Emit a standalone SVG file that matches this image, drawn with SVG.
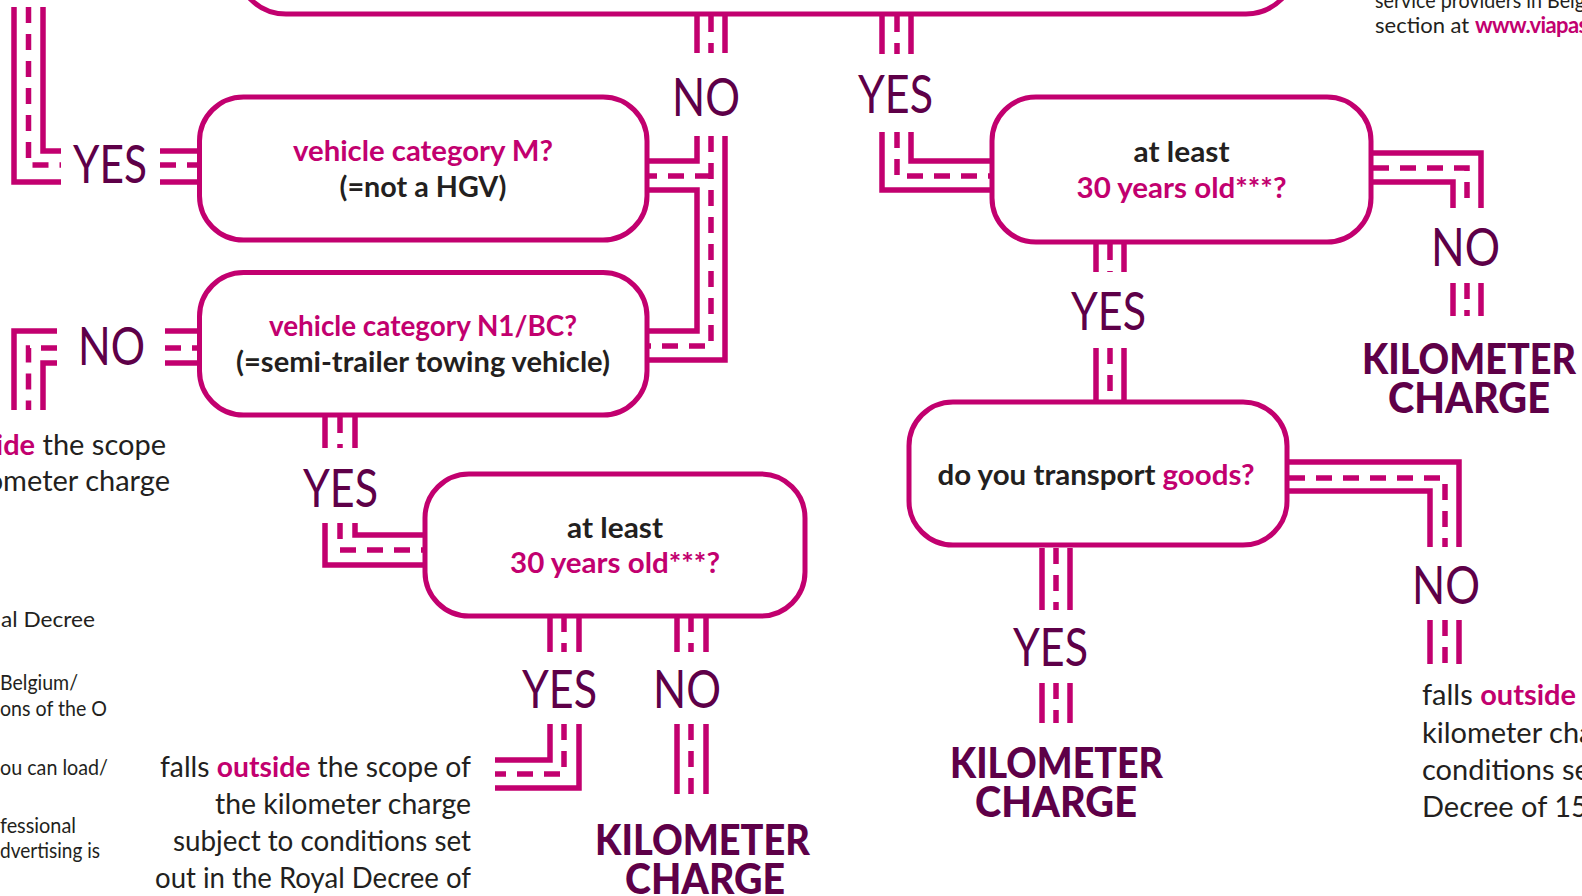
<svg xmlns="http://www.w3.org/2000/svg" width="1582" height="896" viewBox="0 0 1582 896">
<defs>
<style>
.box{fill:#fff;stroke:#C2006F;stroke-width:5}
.r{fill:none;stroke:#C2006F;stroke-width:5.5}
.d{fill:none;stroke:#C2006F;stroke-width:5.5;stroke-dasharray:16 11}
.lab{font-family:Lato,'Open Sans',sans-serif;font-weight:400;font-size:52px;fill:#5E0048}
.km{font-family:Lato,'Open Sans',sans-serif;font-weight:900;font-size:42px;fill:#5E0048}
.q{font-family:Lato,'Open Sans',sans-serif;font-weight:700;font-size:28px;fill:#231F20;text-anchor:middle}
.m{fill:#C2006F}
.b{font-weight:700;fill:#C2006F}
.t{font-family:Lato,'Open Sans',sans-serif;font-size:29px;fill:#231F20}
.s{font-family:Lato,'Open Sans',sans-serif;font-size:22px;fill:#231F20}
</style>
</defs>
<rect width="1582" height="896" fill="#fff"/>

<g id="connectors">
  <!-- top-left YES -->
  <path class="r" d="M14,7V182H61"/>
  <path class="d" d="M28.5,7V165H61"/>
  <path class="r" d="M43,7V151H61"/>
  <path class="r" d="M160,151H198"/>
  <path class="d" d="M160,165H198"/>
  <path class="r" d="M160,182H198"/>
  <!-- left NO from N1 box -->
  <path class="r" d="M165,331H198"/>
  <path class="d" d="M165,348H198"/>
  <path class="r" d="M165,363H198"/>
  <path class="r" d="M57,331H14V410"/>
  <path class="d" d="M57,348H28.5V410"/>
  <path class="r" d="M57,363H43V410"/>
  <!-- top NO -->
  <path class="r" d="M697,16V53"/>
  <path class="d" d="M711,16V53"/>
  <path class="r" d="M725,16V53"/>
  <path class="r" d="M697,136V161H648"/>
  <path class="d" d="M711,176H648"/>
  <path class="d" d="M711,136V346H648"/>
  <path class="r" d="M725,136V360H648"/>
  <path class="r" d="M648,190H697V331H648"/>
  <!-- top YES -->
  <path class="r" d="M882,16V54"/>
  <path class="d" d="M897,16V54"/>
  <path class="r" d="M911,16V54"/>
  <path class="r" d="M911,132V161H991"/>
  <path class="d" d="M897,132V176H991"/>
  <path class="r" d="M882,132V190H991"/>
  <!-- right box NO -->
  <path class="r" d="M1373,153H1481V208"/>
  <path class="d" d="M1373,168H1467V208"/>
  <path class="r" d="M1373,182H1453V208"/>
  <path class="r" d="M1453,283V316"/>
  <path class="d" d="M1467,283V316"/>
  <path class="r" d="M1481,283V316"/>
  <!-- right box YES -->
  <path class="r" d="M1096,244V272"/>
  <path class="d" d="M1110,244V272"/>
  <path class="r" d="M1124,244V272"/>
  <path class="r" d="M1096,348V400"/>
  <path class="d" d="M1110,348V400"/>
  <path class="r" d="M1124,348V400"/>
  <!-- goods YES -->
  <path class="r" d="M1042,548V610"/>
  <path class="d" d="M1056,548V610"/>
  <path class="r" d="M1070,548V610"/>
  <path class="r" d="M1042,683V723"/>
  <path class="d" d="M1056,683V723"/>
  <path class="r" d="M1070,683V723"/>
  <!-- goods NO -->
  <path class="r" d="M1289,462H1459V547"/>
  <path class="d" d="M1289,478H1445V547"/>
  <path class="r" d="M1289,491H1430V547"/>
  <path class="r" d="M1430,620V664"/>
  <path class="d" d="M1445,620V664"/>
  <path class="r" d="M1459,620V664"/>
  <!-- N1 YES -->
  <path class="r" d="M325,417V448"/>
  <path class="d" d="M340,417V448"/>
  <path class="r" d="M355,417V448"/>
  <path class="r" d="M355,523V535H426"/>
  <path class="d" d="M340,523V550H426"/>
  <path class="r" d="M325,523V565H426"/>
  <!-- at least (bottom) YES -->
  <path class="r" d="M550,616V652"/>
  <path class="d" d="M564,616V652"/>
  <path class="r" d="M579,616V652"/>
  <path class="r" d="M550,724V760H495"/>
  <path class="d" d="M564,724V774H495"/>
  <path class="r" d="M579,724V788H495"/>
  <!-- at least (bottom) NO -->
  <path class="r" d="M677,616V652"/>
  <path class="d" d="M691,616V652"/>
  <path class="r" d="M706,616V652"/>
  <path class="r" d="M677,724V794"/>
  <path class="d" d="M691,724V794"/>
  <path class="r" d="M706,724V794"/>
</g>

<g id="node-top">
  <rect class="box" x="236" y="-100" width="1060" height="114" rx="50"/>
</g>

<g id="node-m">
  <rect class="box" x="199.5" y="97" width="447.5" height="143" rx="44"/>
  <text class="q m" x="423" y="161" textLength="260" lengthAdjust="spacingAndGlyphs">vehicle category M?</text>
  <text class="q" x="423" y="197" textLength="167" lengthAdjust="spacingAndGlyphs">(=not a HGV)</text>
</g>

<g id="node-n1">
  <rect class="box" x="199.5" y="272.5" width="447.5" height="142.5" rx="44"/>
  <text class="q m" x="423" y="336" textLength="308" lengthAdjust="spacingAndGlyphs">vehicle category N1/BC?</text>
  <text class="q" x="423" y="372" textLength="374" lengthAdjust="spacingAndGlyphs">(=semi-trailer towing vehicle)</text>
</g>

<g id="node-age-right">
  <rect class="box" x="992" y="97" width="379" height="145" rx="44"/>
  <text class="q" x="1181.5" y="162" textLength="96" lengthAdjust="spacingAndGlyphs">at least</text>
  <text class="q m" x="1181.5" y="198" textLength="210" lengthAdjust="spacingAndGlyphs">30 years old***?</text>
</g>

<g id="node-age-bottom">
  <rect class="box" x="425" y="474" width="380" height="142" rx="44"/>
  <text class="q" x="615" y="538" textLength="96" lengthAdjust="spacingAndGlyphs">at least</text>
  <text class="q m" x="615" y="573" textLength="210" lengthAdjust="spacingAndGlyphs">30 years old***?</text>
</g>

<g id="node-goods">
  <rect class="box" x="909" y="402" width="378" height="143" rx="44"/>
  <text class="q" x="1096" y="485" textLength="317" lengthAdjust="spacingAndGlyphs">do you transport <tspan class="m">goods?</tspan></text>
</g>

<g id="labels">
  <text class="lab" x="73" y="183" textLength="74" lengthAdjust="spacingAndGlyphs">YES</text>
  <text class="lab" x="672" y="116" textLength="68" lengthAdjust="spacingAndGlyphs">NO</text>
  <text class="lab" x="858" y="113" textLength="75" lengthAdjust="spacingAndGlyphs">YES</text>
  <text class="lab" x="78" y="365" textLength="67" lengthAdjust="spacingAndGlyphs">NO</text>
  <text class="lab" x="303" y="507" textLength="75" lengthAdjust="spacingAndGlyphs">YES</text>
  <text class="lab" x="1071" y="330" textLength="75" lengthAdjust="spacingAndGlyphs">YES</text>
  <text class="lab" x="1431" y="266" textLength="69" lengthAdjust="spacingAndGlyphs">NO</text>
  <text class="lab" x="522" y="708" textLength="75" lengthAdjust="spacingAndGlyphs">YES</text>
  <text class="lab" x="653" y="708" textLength="68" lengthAdjust="spacingAndGlyphs">NO</text>
  <text class="lab" x="1013" y="666" textLength="75" lengthAdjust="spacingAndGlyphs">YES</text>
  <text class="lab" x="1412" y="604" textLength="68" lengthAdjust="spacingAndGlyphs">NO</text>
</g>

<g id="result-km-bottom">
  <text class="km" x="595" y="855" textLength="215" lengthAdjust="spacingAndGlyphs">KILOMETER</text>
  <text class="km" x="625" y="894" textLength="160" lengthAdjust="spacingAndGlyphs">CHARGE</text>
</g>
<g id="result-km-goods">
  <text class="km" x="950" y="778" textLength="213" lengthAdjust="spacingAndGlyphs">KILOMETER</text>
  <text class="km" x="975" y="817" textLength="162" lengthAdjust="spacingAndGlyphs">CHARGE</text>
</g>
<g id="result-km-right">
  <text class="km" x="1362" y="374" textLength="214" lengthAdjust="spacingAndGlyphs">KILOMETER</text>
  <text class="km" x="1388" y="413" textLength="162" lengthAdjust="spacingAndGlyphs">CHARGE</text>
</g>

<g id="result-outside-bottom" class="t" text-anchor="end">
  <text x="471" y="777" textLength="311" lengthAdjust="spacingAndGlyphs">falls <tspan class="b">outside</tspan> the scope of</text>
  <text x="471" y="814" textLength="256" lengthAdjust="spacingAndGlyphs">the kilometer charge</text>
  <text x="471" y="851" textLength="298" lengthAdjust="spacingAndGlyphs">subject to conditions set</text>
  <text x="471" y="888" textLength="316" lengthAdjust="spacingAndGlyphs">out in the Royal Decree of</text>
</g>

<g id="result-outside-right" class="t">
  <text x="1422" y="705">falls <tspan class="b">outside</tspan></text>
  <text x="1422" y="743">kilometer cha</text>
  <text x="1422" y="780">conditions se</text>
  <text x="1422" y="817">Decree of 15</text>
</g>

<g id="result-outside-left" class="t" text-anchor="end">
  <text x="166" y="455"><tspan class="b">ide</tspan> the scope</text>
  <text x="170" y="491">ometer charge</text>
</g>

<g id="notes-left" class="s">
  <text x="1" y="627" textLength="94" lengthAdjust="spacingAndGlyphs">al Decree</text>
  <text x="0" y="690" textLength="78" lengthAdjust="spacingAndGlyphs">Belgium/</text>
  <text x="0" y="716" textLength="107" lengthAdjust="spacingAndGlyphs">ons of the O</text>
  <text x="0" y="775" textLength="108" lengthAdjust="spacingAndGlyphs">ou can load/</text>
  <text x="0" y="833" textLength="76" lengthAdjust="spacingAndGlyphs">fessional</text>
  <text x="0" y="858" textLength="100" lengthAdjust="spacingAndGlyphs">dvertising is</text>
</g>

<g id="note-top-right" class="s">
  <text x="1375" y="8" textLength="210" lengthAdjust="spacingAndGlyphs">service providers in Belg</text>
  <text x="1375" y="33">section at <tspan class="b" letter-spacing="-0.6">www.viapas</tspan></text>
</g>
</svg>
